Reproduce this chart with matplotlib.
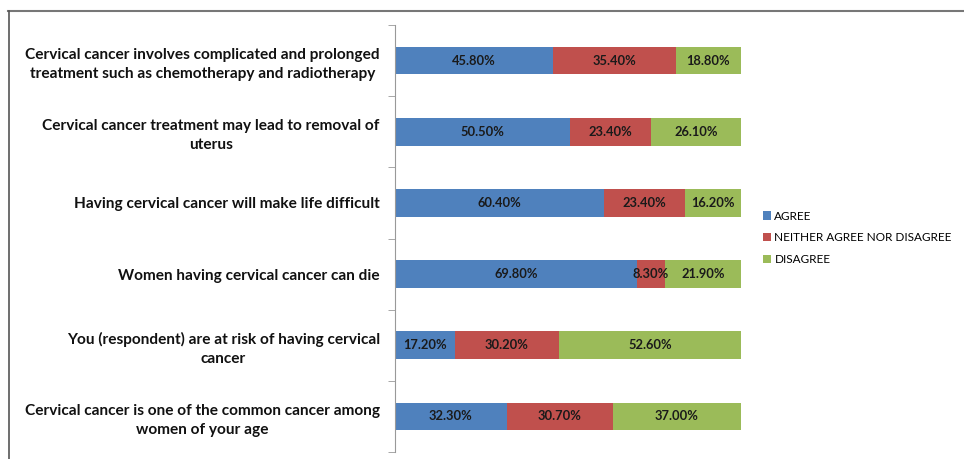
import matplotlib
matplotlib.use("Agg")
import matplotlib.pyplot as plt
from matplotlib.lines import Line2D
from matplotlib.patches import Patch

categories = [
    "Cervical cancer involves complicated and prolonged\ntreatment such as chemotherapy and radiotherapy",
    "Cervical cancer treatment may lead to removal of\nuterus",
    "Having cervical cancer will make life difficult",
    "Women having cervical cancer can die",
    "You (respondent) are at risk of having cervical\ncancer",
    "Cervical cancer is one of the common cancer among\nwomen of your age",
]
agree = [45.8, 50.5, 60.4, 69.8, 17.2, 32.3]
neither = [35.4, 23.4, 23.4, 8.3, 30.2, 30.7]
disagree = [18.8, 26.1, 16.2, 21.9, 52.6, 37.0]
series_names = ["AGREE", "NEITHER AGREE NOR DISAGREE", "DISAGREE"]
colors = ["#4F81BD", "#C0504D", "#9BBB59"]

plt.rcParams['font.family'] = ['Lato', 'DejaVu Sans']

W, H = 964, 459
fig = plt.figure(figsize=(W / 100, H / 100), dpi=100)
ax = fig.add_axes([395 / W, (H - 452) / H, (741 - 395) / W, (452 - 25) / H])

ypos = list(range(len(categories)))
left = [0] * len(categories)
for vals, name, col in zip([agree, neither, disagree], series_names, colors):
    bars = ax.barh(ypos, vals, left=left, height=0.39, color=col, label=name,
                   edgecolor='none')
    for b, v in zip(bars, vals):
        ax.text(b.get_x() + b.get_width() / 2, b.get_y() + b.get_height() / 2,
                f"{v:.2f}%", ha='center', va='center', fontsize=9.3,
                fontweight='bold', color='#1a1a1a')
    left = [l + v for l, v in zip(left, vals)]

ax.set_xlim(0, 100)
ax.set_ylim(len(categories) - 0.5, -0.5)
ax.set_xticks([])
ax.set_yticks(ypos)
ax.set_yticklabels(categories, fontsize=11.1, fontweight='bold', color='#111111',
                   multialignment='center', linespacing=1.45)
ax.tick_params(axis='y', which='major', length=0, pad=11)
ax.set_yticks([i - 0.5 for i in range(len(categories) + 1)], minor=True)
ax.tick_params(axis='y', which='minor', length=5, color='#999999', direction='out')
for s in ['top', 'right', 'bottom']:
    ax.spines[s].set_visible(False)
ax.spines['left'].set_color('#999999')

handles = [Patch(facecolor=c, edgecolor='none') for c in colors]
leg = fig.legend(handles, series_names, loc='upper left',
                 bbox_to_anchor=(752 / W, 1 - 200 / H), frameon=False,
                 fontsize=8.5, handlelength=0.7, handleheight=0.7,
                 handletextpad=0.3, labelspacing=0.9)

# figure border (top and left visible)
fig.add_artist(Line2D([8 / W, 1], [1 - 10.5 / H, 1 - 10.5 / H],
                      transform=fig.transFigure, color='#777777', lw=1.5))
fig.add_artist(Line2D([8.5 / W, 8.5 / W], [0, 1 - 10.5 / H],
                      transform=fig.transFigure, color='#555555', lw=1.2))

fig.savefig("out.png", dpi=100)
